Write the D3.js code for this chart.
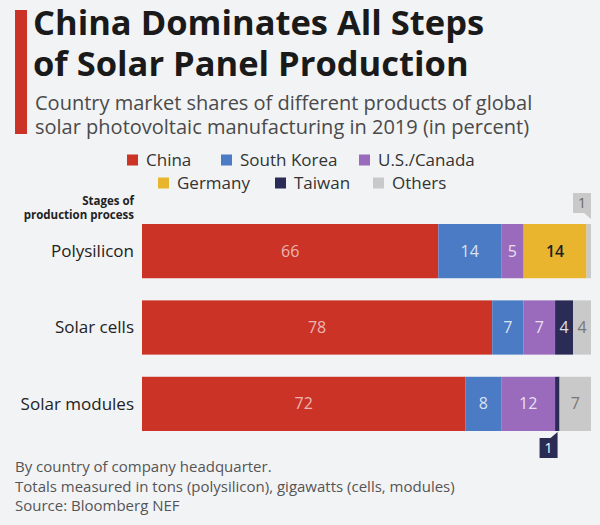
<!DOCTYPE html>
<html>
<head>
<meta charset="utf-8">
<script src="https://cdn.jsdelivr.net/npm/d3@7"></script>
<style>
  body { margin: 0; background: #f2f3f5; }
  svg { display: block; font-family: "Open Sans", sans-serif; }
</style>
</head>
<body>
<div id="chart"></div>
<script>
// data
const stages = ["Polysilicon", "Solar cells", "Solar modules"];
const countries = ["China", "South Korea", "U.S./Canada", "Germany", "Taiwan", "Others"];
const china      = [66, 78, 72];
const southKorea = [14, 7, 8];
const usCanada   = [5, 7, 12];
const germany    = [14, 0, 0];
const taiwan     = [0, 4, 1];
const others     = [1, 4, 7];

const colors = ["#cb3327", "#4a7bc4", "#9a6bbd", "#e9b52e", "#2b2c55", "#c9c9c9"];
const labelColors = ["rgba(255,255,255,0.65)", "rgba(255,255,255,0.8)", "rgba(255,255,255,0.8)",
                     "#222", "rgba(255,255,255,0.85)", "#777"];

const series = [china, southKorea, usCanada, germany, taiwan, others];
const rows = stages.map(function(s, i) {
    const r = { stage: s };
    countries.forEach(function(c, j) { r[c] = series[j][i]; });
    return r;
});

const width = 600, height = 525;
const svg = d3.select("#chart").append("svg")
    .attr("width", width)
    .attr("height", height);

svg.append("rect").attr("width", width).attr("height", height).attr("fill", "#f2f3f5");

// title block
svg.append("rect")
    .attr("x", 15).attr("y", 10).attr("width", 12).attr("height", 124)
    .attr("fill", "#cb3327");

svg.append("text")
    .attr("font-weight", 700).attr("font-size", 34.5).attr("fill", "#1a1a1a")
    .selectAll("tspan")
    .data(["China Dominates All Steps", "of Solar Panel Production"])
    .enter().append("tspan")
    .attr("x", 33)
    .attr("y", function(d, i) { return 35 + i * 41; })
    .text(function(d) { return d; });

svg.append("text")
    .attr("font-size", 20).attr("fill", "#4a4a4a")
    .selectAll("tspan")
    .data(["Country market shares of different products of global",
           "solar photovoltaic manufacturing in 2019 (in percent)"])
    .enter().append("tspan")
    .attr("x", 35)
    .attr("y", function(d, i) { return 110 + i * 24; })
    .text(function(d) { return d; });

// legend
const legendPos = [
    { x: 127, y: 160 }, { x: 221, y: 160 }, { x: 359, y: 160 },
    { x: 158, y: 183 }, { x: 275, y: 183 }, { x: 373, y: 183 }
];
const legend = svg.append("g").selectAll("g")
    .data(countries)
    .enter().append("g")
    .attr("transform", function(d, i) { return "translate(" + legendPos[i].x + "," + legendPos[i].y + ")"; });

legend.append("rect")
    .attr("x", 0).attr("y", -5.5).attr("width", 11).attr("height", 11)
    .attr("fill", function(d, i) { return colors[i]; });

legend.append("text")
    .attr("x", 19).attr("dy", "0.35em")
    .attr("font-size", 17).attr("fill", "#333")
    .text(function(d) { return d; });

// scales
const x = d3.scaleLinear().domain([0, 100]).range([142, 591]);
const y = d3.scaleBand().domain(stages).range([224, 431]).paddingInner(0.29);

svg.append("text")
    .attr("text-anchor", "end").attr("font-weight", 700).attr("font-size", 11.5).attr("fill", "#222")
    .selectAll("tspan")
    .data(["Stages of", "production process"])
    .enter().append("tspan")
    .attr("x", 134)
    .attr("y", function(d, i) { return 205 + i * 13.5; })
    .text(function(d) { return d; });

// category labels
svg.append("g").selectAll("text")
    .data(stages)
    .enter().append("text")
    .attr("x", 134)
    .attr("y", function(d) { return y(d) + y.bandwidth() / 2; })
    .attr("dy", "0.35em")
    .attr("text-anchor", "end")
    .attr("font-size", 17).attr("fill", "#222")
    .text(function(d) { return d; });

// stacked bars
const stacked = d3.stack().keys(countries)(rows);

const layer = svg.append("g").selectAll("g")
    .data(stacked)
    .enter().append("g")
    .attr("fill", function(d, i) { return colors[i]; });

layer.selectAll("rect")
    .data(function(d) { return d; })
    .enter().append("rect")
    .attr("x", function(d) { return x(d[0]); })
    .attr("y", function(d) { return y(d.data.stage); })
    .attr("width", function(d) { return x(d[1]) - x(d[0]); })
    .attr("height", y.bandwidth());

// value labels inside segments
stacked.forEach(function(s, i) {
    svg.append("g").selectAll("text")
        .data(s.filter(function(d) { return d[1] - d[0] >= 3; }))
        .enter().append("text")
        .attr("x", function(d) { return x((d[0] + d[1]) / 2); })
        .attr("y", function(d) { return y(d.data.stage) + y.bandwidth() / 2; })
        .attr("dy", "0.35em")
        .attr("text-anchor", "middle")
        .attr("font-size", 16)
        .attr("font-weight", i === 3 ? 600 : 400)
        .attr("fill", labelColors[i])
        .text(function(d) { return d[1] - d[0]; });
});

// callouts for the tiny segments
function callout(seg, colorIdx, above, txtColor) {
    const w = 18, h = 20, t = 6;
    const right = above ? x(seg[1]) : x(seg[1]) - 2;
    const left = right - w;
    let top, path;
    if (above) {
        top = y(seg.data.stage) - 31;
        path = "M" + left + "," + top + "H" + right + "V" + (top + h + t) +
               "L" + (right - t - 1) + "," + (top + h) + "H" + left + "Z";
    } else {
        top = y(seg.data.stage) + y.bandwidth() + 7;
        path = "M" + left + "," + top + "H" + (right - t - 1) + "L" + right + "," + (top - t) +
               "V" + (top + h) + "H" + left + "Z";
    }
    svg.append("path").attr("d", path).attr("fill", colors[colorIdx]);
    svg.append("text")
        .attr("x", (left + right) / 2)
        .attr("y", top + h / 2)
        .attr("dy", "0.35em")
        .attr("text-anchor", "middle")
        .attr("font-size", 14).attr("fill", txtColor)
        .text(seg[1] - seg[0]);
}
callout(stacked[5][0], 5, true, "#666");
callout(stacked[4][2], 4, false, "#fff");

// footnotes
svg.append("text")
    .attr("font-size", 15).attr("fill", "#555")
    .selectAll("tspan")
    .data(["By country of company headquarter.",
           "Totals measured in tons (polysilicon), gigawatts (cells, modules)",
           "Source: Bloomberg NEF"])
    .enter().append("tspan")
    .attr("x", 15)
    .attr("y", function(d, i) { return 472 + i * 19.5; })
    .text(function(d) { return d; });
</script>
</body>
</html>
